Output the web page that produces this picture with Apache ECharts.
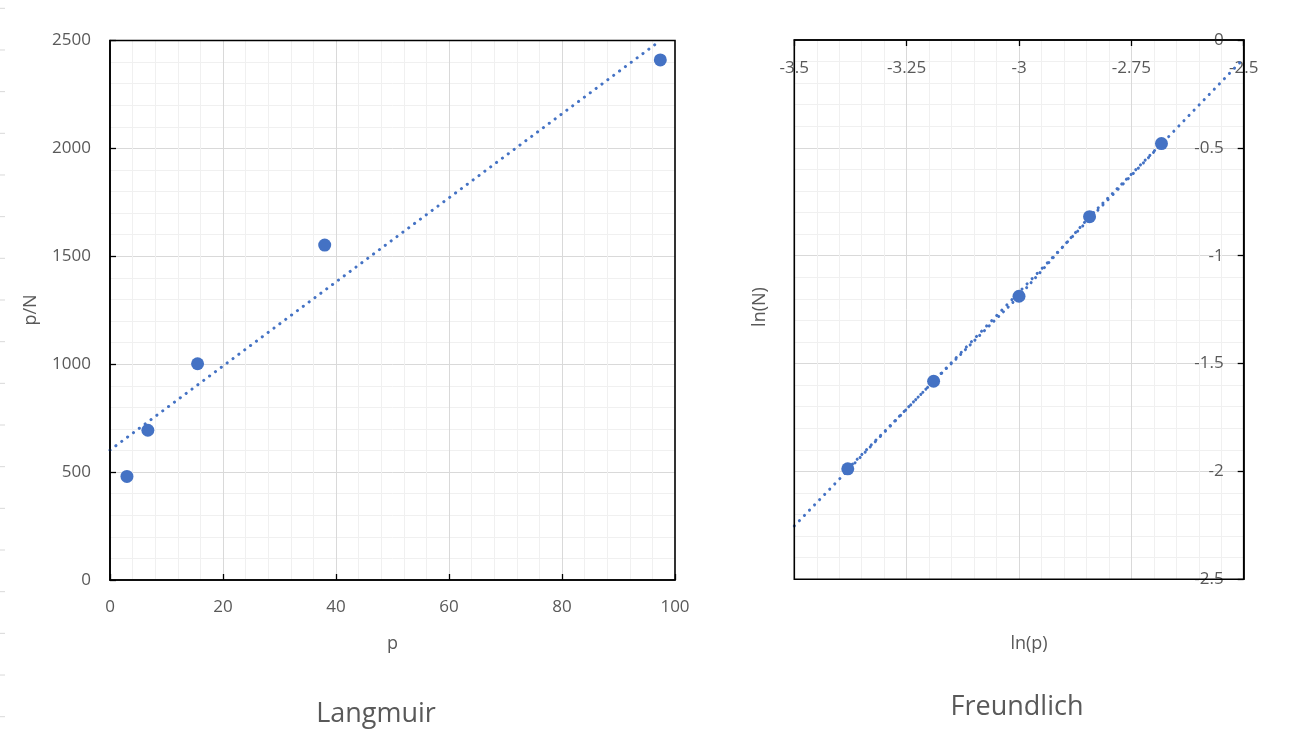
<!DOCTYPE html>
<html>
<head>
<meta charset="utf-8">
<script src="https://cdn.jsdelivr.net/npm/echarts@6/dist/echarts.min.js"></script>
<style>
  html, body { margin: 0; padding: 0; background: #fff; }
  #chart { width: 1298px; height: 753px; }
</style>
</head>
<body>
<div id="chart"></div>
<script>
// ---- Data ----
const langmuirP  = [3.0, 6.7, 15.5, 38.0, 97.4];
const langmuirPN = [480, 694, 1002, 1552, 2410];

const freundLnP = [-3.381, -3.190, -3.000, -2.843, -2.683];
const freundLnN = [-1.988, -1.582, -1.188, -0.819, -0.480];

const langmuirXTicks = [0, 100, 20];      // min, max, interval
const langmuirYTicks = [0, 2500, 500];
const freundXTicks = [-3.5, -2.5, 0.25];
const freundYTicks = [-2.5, 0, 0.5];

// ---- least-squares linear trend line ----
function linFit(xs, ys) {
  const n = xs.length;
  const mx = xs.reduce((a, b) => a + b, 0) / n;
  const my = ys.reduce((a, b) => a + b, 0) / n;
  let sxx = 0, sxy = 0;
  for (let i = 0; i < n; i++) { sxx += (xs[i] - mx) ** 2; sxy += (xs[i] - mx) * (ys[i] - my); }
  const b = sxy / sxx;
  return { slope: b, intercept: my - b * mx };
}
const fitL = linFit(langmuirP, langmuirPN);
const fitF = linFit(freundLnP, freundLnN);
const trendL = [langmuirXTicks[0], Math.max(...langmuirP)].map(x => [x, fitL.intercept + fitL.slope * x]);
const trendF = [freundXTicks[0], freundXTicks[1]].map(x => [x, fitF.intercept + fitF.slope * x]);

const BLUE = '#4472C4';
const TXT = '#595959';
const FONT = 'Open Sans';

const dotted = { color: BLUE, width: 3, type: [0.1, 7.2], cap: 'round' };

function axisCommon(extra) {
  return Object.assign({
    type: 'value',
    axisLine: { show: true, onZero: false, lineStyle: { color: '#000', width: 1.6 } },
    axisTick: { show: true, inside: true, length: 6, lineStyle: { color: '#000', width: 1.3 } },
    splitLine: { show: true, showMinLine: false, showMaxLine: false, lineStyle: { color: '#d9d9d9', width: 1 } },
    minorTick: { show: false, splitNumber: 5 },
    minorSplitLine: { show: true, lineStyle: { color: '#f0f0f0', width: 1 } }
  }, extra);
}
const plain = v => String(v);
const lbl = (extra) => Object.assign({ color: TXT, fontSize: 17, fontFamily: FONT, showMinLabel: true, showMaxLabel: true, hideOverlap: false, formatter: plain }, extra);

// faint spreadsheet row marks on left edge
const rowMarks = [];
for (let k = 0; k < 18; k++) {
  rowMarks.push({ type: 'line', shape: { x1: 0, y1: 8.3 + 41.67 * k, x2: 5, y2: 8.3 + 41.67 * k }, style: { stroke: '#d9d9d9', lineWidth: 1 }, silent: true });
}

const option = {
  backgroundColor: '#fff',
  animation: false,
  grid: [
    { left: 110, top: 40.5, width: 565, height: 539.5, show: true, borderColor: '#000', borderWidth: 1.6, z: 5 },
    { left: 794.3, top: 40, width: 449.4, height: 539.3, show: true, borderColor: '#000', borderWidth: 1.6, z: 5 }
  ],
  xAxis: [
    axisCommon({ gridIndex: 0, min: langmuirXTicks[0], max: langmuirXTicks[1], interval: langmuirXTicks[2], position: 'bottom',
      axisLabel: lbl({ margin: 19 }) }),
    axisCommon({ gridIndex: 1, min: freundXTicks[0], max: freundXTicks[1], interval: freundXTicks[2], position: 'top',
      axisLabel: lbl({ inside: true, margin: 20 }) })
  ],
  yAxis: [
    axisCommon({ gridIndex: 0, min: langmuirYTicks[0], max: langmuirYTicks[1], interval: langmuirYTicks[2], position: 'left',
      axisLabel: lbl({ margin: 19 }) }),
    axisCommon({ gridIndex: 1, min: freundYTicks[0], max: freundYTicks[1], interval: freundYTicks[2], position: 'right',
      axisLabel: lbl({ inside: true, margin: 20 }) })
  ],
  title: [
    { text: 'p', left: 392.5, top: 635, textAlign: 'center', textStyle: { color: TXT, fontSize: 18, fontWeight: 'normal', fontFamily: FONT }, padding: 0 },
    { text: 'ln(p)', left: 1029, top: 635, textAlign: 'center', textStyle: { color: TXT, fontSize: 18, fontWeight: 'normal', fontFamily: FONT }, padding: 0 },
    { text: 'Langmuir', left: 376, top: 701, textAlign: 'center', textStyle: { color: TXT, fontSize: 27, fontWeight: 'normal', fontFamily: FONT }, padding: 0 },
    { text: 'Freundlich', left: 1017, top: 694, textAlign: 'center', textStyle: { color: TXT, fontSize: 27, fontWeight: 'normal', fontFamily: FONT }, padding: 0 }
  ],
  graphic: [
    { type: 'text', x: 31, y: 310, rotation: Math.PI / 2, style: { text: 'p/N', fill: TXT, font: '18px "Open Sans"', align: 'center', verticalAlign: 'middle' } },
    { type: 'text', x: 760, y: 307, rotation: Math.PI / 2, style: { text: 'ln(N)', fill: TXT, font: '18px "Open Sans"', align: 'center', verticalAlign: 'middle' } }
  ].concat(rowMarks),
  series: [
    { name: 'Langmuir trend', type: 'line', xAxisIndex: 0, yAxisIndex: 0, data: trendL, showSymbol: false, symbol: 'none', lineStyle: dotted, clip: true, z: 3 },
    { name: 'Langmuir', type: 'scatter', xAxisIndex: 0, yAxisIndex: 0, data: langmuirP.map((x, i) => [x, langmuirPN[i]]), symbolSize: 13, itemStyle: { color: BLUE, opacity: 1 }, z: 4 },
    { name: 'Freundlich trend', type: 'line', xAxisIndex: 1, yAxisIndex: 1, data: trendF, showSymbol: false, symbol: 'none', lineStyle: dotted, clip: true, z: 3 },
    { name: 'Freundlich link', type: 'line', xAxisIndex: 1, yAxisIndex: 1, data: freundLnP.map((x, i) => [x, freundLnN[i]]), showSymbol: false, symbol: 'none', lineStyle: Object.assign({}, dotted, { type: [0.1, 6.6] }), z: 3 },
    { name: 'Freundlich', type: 'scatter', xAxisIndex: 1, yAxisIndex: 1, data: freundLnP.map((x, i) => [x, freundLnN[i]]), symbolSize: 13, itemStyle: { color: BLUE, opacity: 1 }, z: 4 }
  ]
};

const chart = echarts.init(document.getElementById('chart'), null, { renderer: 'canvas' });
chart.setOption(option);
</script>
</body>
</html>
